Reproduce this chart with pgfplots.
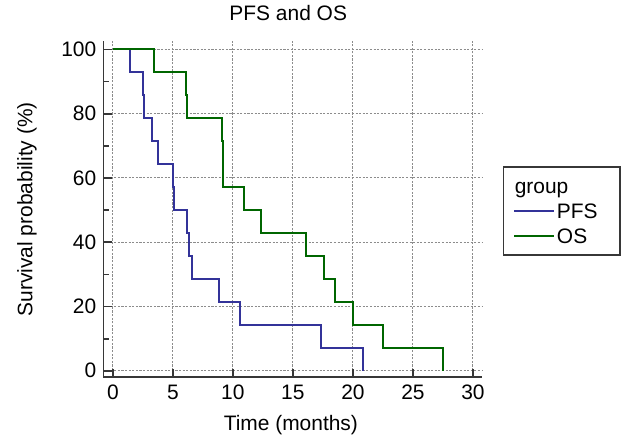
\documentclass[border=0pt]{standalone}
\usepackage{fontspec}
\setmainfont{Liberation Sans}
\usepackage{pgfplots}
\pgfplotsset{compat=1.18}
\definecolor{pfsblue}{RGB}{51,51,153}
\definecolor{osgreen}{RGB}{0,102,0}
\definecolor{axisgray}{RGB}{55,55,55}
\definecolor{gridgray}{RGB}{140,140,140}

\begin{document}
\fontsize{15.7}{18.8}\selectfont
\begin{tikzpicture}[x=1pt,y=1pt]
\useasboundingbox (-77.6,-45.5) rectangle (392.6,283.0);
\begin{axis}[
  at={(0,0)}, anchor=south west,
  scale only axis,
  width=283.9pt, height=252.2pt,
  xmin=-0.78, xmax=30.76, ymin=-2.05, ymax=102.6,
  enlargelimits=false,
  axis lines=left,
  axis line style={-, axisgray, line width=1.4pt},
  xtick={0,5,...,30}, ytick={0,20,...,100},
  minor ytick={10,30,...,90},
  tick align=inside,
  major tick length=6.5pt, minor tick length=4.5pt,
  every tick/.style={axisgray, line width=1.3pt},
  grid=major,
  major grid style={gridgray, line width=0.8pt, dash pattern=on 1.6pt off 1.1pt},
  /pgf/number format/assume math mode=true,
  title={PFS and OS},
  title style={at={(axis description cs:0.488,1.059)}, anchor=center},
  xlabel={Time (months)},
  xlabel style={at={(axis description cs:0.495,-0.142)}, anchor=center},
  ylabel={Survival probability (\%)},
  ylabel style={at={(axis description cs:-0.202,0.5)}, anchor=center},
  legend cell align=left,
  legend image code/.code={\draw[#1, line width=1pt] (0pt,0pt) -- (30pt,0pt);},
  legend style={at={(1.0547,0.6283)}, anchor=north west, draw=axisgray,
    line width=1.1pt, inner xsep=7.5pt, inner ysep=5pt, row sep=0pt,
    nodes={inner xsep=1.6pt, inner ysep=0pt, text height=15pt, text depth=3.75pt}},
]
\addlegendimage{empty legend}
\addlegendentry{\hspace*{-31.6pt}group}

% PFS
\addplot[const plot, pfsblue, line width=1.5pt] coordinates {
  (0,100) (1.47,92.86) (2.48,85.71) (2.62,78.57) (3.23,71.43) (3.78,64.29)
  (4.98,57.14) (5.12,50) (6.2,42.86) (6.33,35.71) (6.6,28.57) (8.83,21.43)
  (10.6,14.29) (17.36,7.14) (20.8,0)
};
\addlegendentry{\makebox[38pt][l]{PFS}}

% OS
\addplot[const plot, osgreen, line width=1.5pt] coordinates {
  (0,100) (3.42,92.86) (6.08,85.71) (6.2,78.57) (9.06,71.43) (9.14,57.14)
  (10.92,50) (12.33,42.86) (16.06,35.71) (17.61,28.57) (18.47,21.43)
  (19.97,14.29) (22.53,7.14) (27.53,0)
};
\addlegendentry{\makebox[38pt][l]{OS}}
\end{axis}
\end{tikzpicture}
\end{document}
